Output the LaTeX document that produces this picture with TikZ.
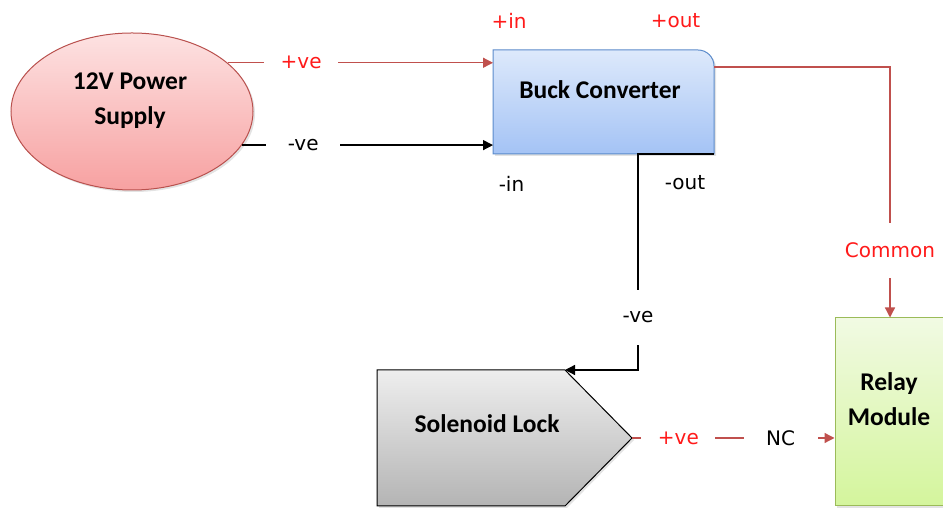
\documentclass[tikz,border=0pt]{standalone}
\usepackage{fontspec}
\setmainfont{Carlito}
\newfontfamily\lblfont{DejaVu Sans}
\usetikzlibrary{arrows.meta,shapes.geometric,shadows,calc}
\definecolor{wirered}{HTML}{C0504D}
\definecolor{psutop}{HTML}{FDE2E2}
\definecolor{psubot}{HTML}{F7A1A1}
\definecolor{psuline}{HTML}{B9514E}
\definecolor{bucktop}{HTML}{DDE9FB}
\definecolor{buckbot}{HTML}{A4C3F5}
\definecolor{buckline}{HTML}{5B8BCB}
\definecolor{soltop}{HTML}{EEEEEE}
\definecolor{solbot}{HTML}{B4B4B4}
\definecolor{relaytop}{HTML}{F1FAE3}
\definecolor{relaybot}{HTML}{D4F59C}
\definecolor{relayline}{HTML}{9BBB59}
\definecolor{txtred}{HTML}{FF1A1A}
\begin{document}
\begin{tikzpicture}[x=1pt,y=1pt,
  boxtext/.style={font=\fontsize{25.5}{35}\selectfont\bfseries, align=center, text=black},
  lbltext/.style={font=\lblfont\fontsize{20}{24}\selectfont, inner sep=0pt},
  lblh/.style={lbltext, fill=white, minimum width=74pt, minimum height=20pt},
  lblv/.style={lbltext, fill=white, minimum height=55pt},
  redwire/.style={draw=wirered, line width=1.3pt, -{Triangle[length=10pt,width=10pt]}},
  blackwire/.style={draw=black, line width=1.3pt, -{Triangle[length=10pt,width=10pt]}},
  softshadow/.style={drop shadow={opacity=0.22,shadow xshift=2pt,shadow yshift=-2pt}},
  anchorbox/.style={inner sep=0pt, outer sep=0pt}
]
\useasboundingbox (0,0) rectangle (943,508);

% 12V Power Supply
\node[ellipse, draw=psuline, line width=1pt, top color=psutop, bottom color=psubot,
      minimum width=242pt, minimum height=157pt, inner sep=0pt, softshadow] (psu) at (132,396.5) {};
\node[boxtext] (psutxt) at (130,407) {12V Power\\Supply};

% Buck Converter
\path[draw=buckline, line width=1pt, top color=bucktop, bottom color=buckbot, softshadow]
  (493,354) -- (493,458) -- (698,458) arc[start angle=90, end angle=0, radius=16] -- (714,354) -- cycle;
\node[anchorbox, minimum width=221pt, minimum height=104pt] (buck) at (603.5,406) {};
\node[boxtext] (bucktxt) at (600,418) {Buck Converter};

% Solenoid Lock
\path[draw=black, line width=1pt, top color=soltop, bottom color=solbot, softshadow]
  (377,2) -- (377,138) -- (565,138) -- (632,70) -- (565,2) -- cycle;
\node[anchorbox, minimum width=188pt, minimum height=136pt] (sol) at (471,70) {};
\coordinate (soltip) at (632,70);
\node[boxtext] (soltxt) at (487,84) {Solenoid Lock};

% Relay Module
\node[draw=relayline, line width=1pt, top color=relaytop, bottom color=relaybot,
      minimum width=110pt, minimum height=188pt, inner sep=0pt, softshadow] (relay) at (890,96) {};
\node[boxtext] (relaytxt) at (889,108.5) {Relay\\Module};

% connectors
\draw[redwire] (psu.27.8) -- node[lblh, text=txtred, pos=0.277] {+ve} (psu.27.8 -| buck.west);
\draw[blackwire] (psu.-17.6) -- node[lblh, pos=0.244] {-ve} (psu.-17.6 -| buck.west);
\draw[redwire] ([yshift=35pt]buck.east) -| node[lblv, text=txtred, pos=0.866] {Common} (relay.north);
\draw[blackwire] (buck.south east) -- ++(-76,0) |- node[lblv, pos=0.378] {-ve} (sol.north east);
\draw[redwire] (soltip) -- node[lblh, text=txtred, pos=0.229] {+ve} node[lblh, pos=0.734] {NC} (soltip -| relay.west);

% pin labels
\node[lbltext, text=txtred] (pinin) at (509,487) {+in};
\node[lbltext, text=txtred] (pinout) at (675.5,487) {+out};
\node[lbltext] (minin) at (511.5,324) {-in};
\node[lbltext] (minout) at (685,325) {-out};
\end{tikzpicture}
\end{document}
